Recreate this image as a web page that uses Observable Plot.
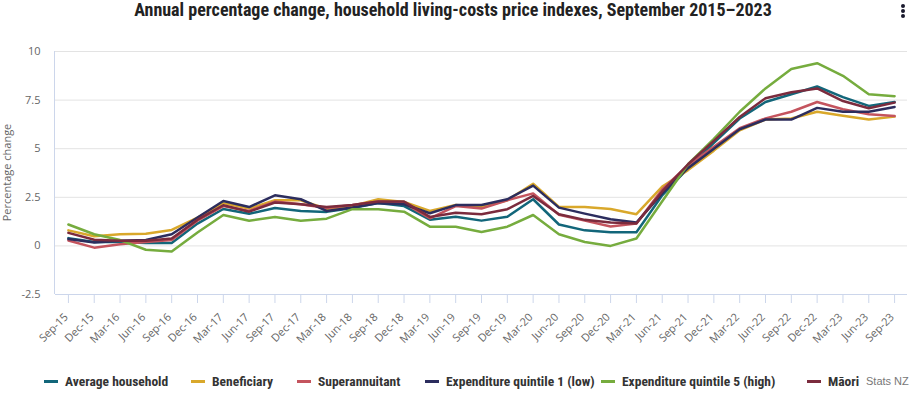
<!DOCTYPE html>
<html>
<head>
<meta charset="utf-8">
<script src="https://cdn.jsdelivr.net/npm/d3@7"></script>
<script src="https://cdn.jsdelivr.net/npm/@observablehq/plot@0.6"></script>
<style>
  html, body { margin: 0; padding: 0; background: #fff; }
  #wrap { position: relative; width: 915px; height: 397px; overflow: hidden; font-family: "Open Sans", "Liberation Sans", Arial, sans-serif; }
  #title { position: absolute; left: 0; top: 0; width: 906px; text-align: center; font-family: "Liberation Sans Narrow", "Roboto Condensed", "Liberation Sans", Arial, sans-serif; font-weight: bold; font-size: 18px; color: #222; line-height: 20px; }
  #menu { position: absolute; left: 901px; top: 4px; }
  #menu div { width: 4px; height: 4px; border-radius: 2px; background: #1a1a2e; margin-bottom: 1px; }
  #chart { position: absolute; left: 0; top: 28px; }
  .leg { position: absolute; top: 373px; display: flex; align-items: center; font-family: "Liberation Sans Narrow", "Roboto Condensed", "Liberation Sans", Arial, sans-serif; font-weight: bold; font-size: 13.5px; color: #333; white-space: nowrap; }
  .leg span.sw { display: inline-block; width: 14px; height: 3px; margin-right: 7px; }
  #credit { position: absolute; left: 866px; top: 375px; font-size: 11px; color: #777; font-family: "Liberation Sans Narrow", "Liberation Sans", Arial, sans-serif; }
</style>
</head>
<body>
<div id="wrap">
  <div id="title">Annual percentage change, household living-costs price indexes, September 2015–2023</div>
  <div id="menu"><div></div><div></div><div></div></div>
  <div id="chart"></div>
  <div id="legend"></div>
  <div id="credit">Stats NZ</div>
</div>
<script>
const quarters = ["Sep-15","Dec-15","Mar-16","Jun-16","Sep-16","Dec-16","Mar-17","Jun-17","Sep-17","Dec-17","Mar-18","Jun-18","Sep-18","Dec-18","Mar-19","Jun-19","Sep-19","Dec-19","Mar-20","Jun-20","Sep-20","Dec-20","Mar-21","Jun-21","Sep-21","Dec-21","Mar-22","Jun-22","Sep-22","Dec-22","Mar-23","Jun-23","Sep-23"];

const seriesNames = ["Average household","Beneficiary","Superannuitant","Expenditure quintile 1 (low)","Expenditure quintile 5 (high)","Māori"];
const seriesColors = ["#12667a","#d9a82b","#c4545e","#2c2d5e","#76ac3e","#7b2b3d"];

const averageHousehold = [0.4,0.2,0.2,0.15,0.15,1.15,1.9,1.65,1.95,1.8,1.75,1.95,2.2,2.05,1.35,1.5,1.3,1.5,2.4,1.1,0.8,0.7,0.7,2.6,4.0,5.3,6.55,7.4,7.8,8.2,7.65,7.2,7.4];
const beneficiary = [0.8,0.5,0.6,0.63,0.82,1.45,2.2,1.92,2.35,2.35,1.9,2.05,2.4,2.26,1.8,2.1,2.0,2.35,3.2,2.0,2.0,1.9,1.63,3.05,3.9,4.9,5.95,6.5,6.55,6.9,6.7,6.5,6.65];
const superannuitant = [0.28,-0.09,0.09,0.2,0.3,1.3,2.05,1.8,2.28,2.14,1.95,2.1,2.28,2.2,1.42,2.05,1.92,2.35,2.7,1.6,1.3,1.0,1.15,2.9,4.15,5.1,6.05,6.56,6.9,7.4,7.03,6.77,6.68];
const quintile1 = [0.35,0.17,0.26,0.3,0.6,1.46,2.31,2.0,2.6,2.4,1.8,1.97,2.2,2.14,1.68,2.1,2.1,2.4,3.1,1.97,1.66,1.37,1.2,2.7,4.0,5.0,6.0,6.5,6.5,7.1,6.9,6.9,7.15];
const quintile5 = [1.1,0.6,0.3,-0.2,-0.29,0.69,1.59,1.29,1.49,1.29,1.4,1.89,1.89,1.76,0.99,0.99,0.72,0.99,1.59,0.6,0.2,0.0,0.38,2.3,4.2,5.5,6.9,8.1,9.1,9.4,8.75,7.8,7.7];
const maori = [0.67,0.32,0.26,0.26,0.38,1.35,2.09,1.76,2.23,2.14,2.0,2.1,2.28,2.28,1.49,1.71,1.63,1.89,2.57,1.63,1.34,1.2,1.15,2.8,4.2,5.4,6.63,7.6,7.9,8.1,7.45,7.08,7.37];

const yTicks = [-2.5,0,2.5,5,7.5,10];

const allSeries = [averageHousehold, beneficiary, superannuitant, quintile1, quintile5, maori];
const data = [];
allSeries.forEach((vals, si) => {
  vals.forEach((v, i) => data.push({series: seriesNames[si], quarter: quarters[i], value: v}));
});

const width = 915, height = 320;
const plot = Plot.plot({
  width, height,
  marginLeft: 55, marginRight: 8, marginTop: 23, marginBottom: 54,
  style: {fontFamily: '"Open Sans", "Liberation Sans", Arial, sans-serif', fontSize: "11px", color: "#666", background: "#fff"},
  x: {type: "point", domain: quarters, padding: 0.5, round: false},
  y: {domain: [-2.5, 10]},
  color: {domain: seriesNames, range: seriesColors},
  marks: [
    Plot.ruleY(yTicks.filter(d => d !== yTicks[0]), {stroke: "#e3e3e3", strokeWidth: 1}),
    Plot.ruleY([yTicks[0]], {stroke: "#ccd6eb", strokeWidth: 1}),
    Plot.axisY({ticks: yTicks, tickSize: 0, tickPadding: 15, tickFormat: d => String(d), label: null, fill: "#666"}),
    Plot.axisX({tickSize: 9, tickFormat: () => "", stroke: "#ccd6eb", label: null}),
    Plot.line(data, {x: "quarter", y: "value", z: "series", stroke: "series", strokeWidth: 2.5, strokeLinejoin: "round"})
  ]
});
document.getElementById("chart").appendChild(plot);

// left axis line, rotated x tick labels and y-axis title, positioned through the plot's scales
const xs = plot.scale("x");
const ys = plot.scale("y");
const svg = d3.select(plot);
const yTop = ys.apply(yTicks[yTicks.length - 1]);
const yBot = ys.apply(yTicks[0]);
svg.append("line").attr("x1", 54.5).attr("x2", 54.5).attr("y1", yTop).attr("y2", yBot)
  .attr("stroke", "#ccd6eb").attr("stroke-width", 1);
svg.append("g")
  .attr("font-family", '"Open Sans", "Liberation Sans", Arial, sans-serif')
  .attr("font-size", 11).attr("fill", "#666").attr("text-anchor", "end")
  .selectAll("text").data(quarters).join("text")
  .attr("transform", d => `translate(${xs.apply(d) - 2},${yBot + 21}) rotate(-45)`)
  .attr("dy", "0.35em")
  .text(d => d);
svg.append("text").attr("transform", `translate(11,${(yTop + yBot) / 2}) rotate(-90)`)
  .attr("text-anchor", "middle").attr("fill", "#666").attr("font-size", 11)
  .text("Percentage change");

// legend
const legX = [44, 191, 297, 425, 601, 807];
const leg = document.getElementById("legend");
seriesNames.forEach((name, i) => {
  const item = document.createElement("div");
  item.className = "leg";
  item.style.left = legX[i] + "px";
  item.innerHTML = `<span class="sw" style="background:${seriesColors[i]}"></span><span></span>`;
  item.lastChild.textContent = name;
  leg.appendChild(item);
});
</script>
</body>
</html>
